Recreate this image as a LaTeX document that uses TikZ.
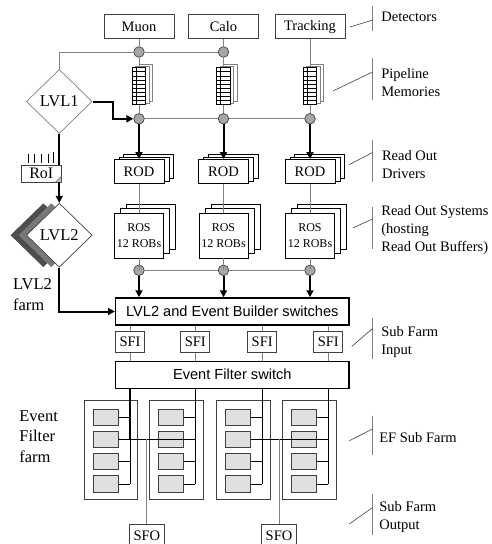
\documentclass[tikz,border=0pt]{standalone}
\usepackage{fontspec}
\setmainfont{Liberation Serif}
\setsansfont{Liberation Sans}
\usetikzlibrary{arrows.meta,shapes.geometric,shadows}

\definecolor{linegray}{HTML}{808080}
\definecolor{boxgray}{HTML}{404040}
\definecolor{dotgray}{HTML}{A6A6A6}
\definecolor{cellgray}{HTML}{E0E0E0}
\definecolor{shadedark}{HTML}{4D4D4D}
\definecolor{shademid}{HTML}{787878}

\tikzset{
    txt/.style={font=\fontsize{14.5}{18}\selectfont},
    bigtxt/.style={font=\fontsize{16.5}{20.5}\selectfont},
    sanstxt/.style={font=\sffamily\fontsize{14.6}{18}\selectfont},
    detbox/.style={draw=boxgray, fill=white, minimum width=70pt, minimum height=24.2pt, inner sep=0pt, txt},
    junction/.style={circle, draw=boxgray, fill=dotgray, minimum size=10.6pt, inner sep=0pt},
    pipe/.style={draw=black, fill=white, minimum width=13.5pt, minimum height=37pt, inner sep=0pt,
        general shadow={shadow xshift=7pt, shadow yshift=3.5pt, draw=linegray, fill=white},
        general shadow={shadow xshift=3.5pt, shadow yshift=1.75pt, draw=linegray, fill=white},
        path picture={
            \foreach \k in {1,...,8}
                \draw[line width=0.5pt] ([yshift=-\k*4.1pt]path picture bounding box.north west) -- ++(13.5pt,0);
            \draw[line width=0.5pt] ([xshift=3.5pt]path picture bounding box.north west)
                -- ([xshift=3.5pt]path picture bounding box.south west);
        }},
    rodbox/.style={draw=black, fill=white, minimum width=50pt, minimum height=24.2pt, inner sep=0pt, txt,
        general shadow={shadow xshift=9.5pt, shadow yshift=5pt, draw=black, fill=white},
        general shadow={shadow xshift=5pt, shadow yshift=2.5pt, draw=black, fill=white}},
    rosbox/.style={draw=black, fill=white, minimum width=49.3pt, minimum height=45pt, inner sep=0pt,
        align=center, font=\fontsize{12}{15.5}\selectfont,
        general shadow={shadow xshift=12pt, shadow yshift=8.5pt, draw=black, fill=white},
        general shadow={shadow xshift=6pt, shadow yshift=4.3pt, draw=black, fill=white}},
    trig/.style={diamond, aspect=1, minimum width=65.7pt, minimum height=64pt, inner sep=0pt, fill=white, bigtxt},
    switchbox/.style={draw=black, line width=1.5pt, fill=white, minimum width=233.3pt, minimum height=27pt, sanstxt},
    smallbox/.style={draw=boxgray, fill=white, minimum width=29pt, minimum height=21pt, inner sep=0pt, txt},
    farmbox/.style={draw=boxgray, minimum width=53.5pt, minimum height=99.5pt, inner sep=0pt},
    cell/.style={draw=boxgray, fill=cellgray, minimum width=24.7pt, minimum height=16.3pt, inner sep=0pt},
    conn/.style={draw=linegray, line width=0.8pt},
    link/.style={draw=black, line width=0.6pt},
    flow/.style={->, line width=2pt},
    brk/.style={draw=linegray, line width=1.2pt},
    sidelabel/.style={txt, align=left, anchor=west, inner sep=0pt},
}

\begin{document}
\begin{tikzpicture}[x=1pt, y=-1pt, line width=0.7pt, >={Triangle[length=7pt,width=7pt]}]

    \useasboundingbox (0,0) rectangle (492,544);
    \clip (0,0) rectangle (492,544);

    %========================
    % Detectors, pipelines, RODs, ROSs
    %========================
    \node[detbox] (muon) at (139,26.7) {Muon};
    \node[detbox] (calo) at (223.5,26.7) {Calo};
    \node[detbox] (trk) at (310,26.7) {Tracking};

    \node[junction] (top1) at (139,52) {};
    \node[junction] (top2) at (223.5,52) {};

    \foreach \i/\x in {1/139,2/223.5,3/310} {
        \node[pipe] (pipe\i) at (\x,86.1) {};
        \node[junction] (mid\i) at (\x,118.8) {};
        \node[rodbox] (rod\i) at (\x,171.5) {ROD};
        \node[rosbox] (ros\i) at (\x,235.6) {ROS\\12 ROBs};
        \node[junction] (rj\i) at (\x,270.3) {};
    }

    %========================
    % Trigger levels
    %========================
    \node[trig, draw=linegray] (lvl1) at (59.3,101.5) {LVL1};
    \node[draw=boxgray, fill=white, minimum width=39.3pt, minimum height=17pt, inner sep=0pt,
          font=\fontsize{16}{18}\selectfont] (roi) at (41.3,173.5) {RoI};
    \node[trig, draw=boxgray,
          general shadow={shadow xshift=-16pt, fill=shadedark, draw=none},
          general shadow={shadow xshift=-8pt, fill=shademid, draw=none}] (lvl2) at (59.3,235.2) {LVL2};

    % RoI folded corner and ticks
    \filldraw[fill=cellgray!70!gray, draw=boxgray, line width=0.4pt]
        (roi.south east) -- ++(-6,0) -- ++(6,-6) -- cycle;
    \foreach \dx/\h in {6.6/8.5, 13.3/8.5, 20/8.5, 26.6/8.5, 31.6/11}
        \draw[link] ([xshift=\dx pt, yshift=1.7pt]roi.north west) -- ++(0,-\h);

    \node[sidelabel, bigtxt] (lbllvl2) at (12.7,294.5) {LVL2\\farm};

    %========================
    % Switches, SFIs, EF sub farms
    %========================
    \node[switchbox] (eb) at (232.3,311.5) {LVL2 and Event Builder switches};
    \node[switchbox] (efs) at (232.3,374.75) {Event Filter switch};

    \foreach \i/\x in {1/130,2/195.3,3/262.2,4/328.3} {
        \node[smallbox] (sfi\i) at (\x,342) {SFI};
        \node[farmbox] (farm\i) at (\x-18.95,450) {};
        \foreach \r/\yc in {a/417.2,b/439.4,c/461.6,d/483.8}
            \node[cell] (f\i-\r) at (\x-24.35,\yc) {};
    }

    \node[smallbox, minimum width=35pt, minimum height=23.4pt] (sfo1) at (146.8,536) {SFO};
    \node[smallbox, minimum width=35pt, minimum height=23.4pt] (sfo2) at (279,536) {SFO};

    \node[sidelabel, bigtxt] (lblef) at (19,436.3) {Event\\Filter\\farm};

    %========================
    % Connectors
    %========================
    \draw[conn] (muon.south) -- (top1.north);
    \draw[conn] (calo.south) -- (top2.north);
    \draw[conn] (top1.south) -- (pipe1.north);
    \draw[conn] (top2.south) -- (pipe2.north);
    \draw[conn] (trk.south) -- (pipe3.north);
    \draw[conn] (lvl1.north) |- (top1.west);
    \draw[conn] (top1.east) -- (top2.west);
    \draw[conn] (mid1.east) -- (mid2.west) (mid2.east) -- (mid3.west);
    \draw[conn] (rj1.east) -- (rj2.west) (rj2.east) -- (rj3.west);

    \foreach \i in {1,2,3} {
        \draw[conn] (pipe\i.south) -- (mid\i.north);
        \draw[flow] (mid\i.south) -- (rod\i.north);
        \draw[conn] (rod\i.south) -- (ros\i.north);
        \draw[conn] (ros\i.south) -- (rj\i.center);
        \draw[flow] (rj\i.south) -- (rj\i.south |- eb.north);
    }

    \draw[flow] (lvl1.east) -- ++(20.6,0) |- (mid1.west);
    \draw[line width=2pt] (lvl1.south) -- (lvl1.south |- roi.north);
    \draw[flow] (lvl1.south |- roi.south) -- (lvl2.north);
    \draw[flow] (lvl2.south) |- (eb.west);

    \foreach \i in {1,...,4} {
        \draw[conn] (eb.south -| sfi\i) -- (sfi\i.north);
        \draw[conn] (sfi\i.south) -- (sfi\i |- efs.north);
        \draw[link] (efs.south -| sfi\i) -- (f\i-d.east -| sfi\i);
        \draw[line width=1.3pt] (efs.south -| sfi\i) -- (f\i-b.east -| sfi\i);
        \foreach \r in {a,b,c,d}
            \draw[link] (f\i-\r.east) -- (f\i-\r.east -| sfi\i);
    }

    \draw[link] (f1-b.east -| sfi1) -- (f2-b.east -| sfi2);
    \draw[link] (f3-b.east -| sfi3) -- (f4-b.east -| sfi4);
    \draw[conn] (sfo1.north) -- (sfo1.north |- f1-b.east);
    \draw[conn] (sfo2.north) -- (sfo2.north |- f3-b.east);

    %========================
    % Side labels
    %========================
    \node[sidelabel] (lbldet) at (381,16.6) {Detectors};
    \node[sidelabel] (lblpipe) at (381,82.6) {Pipeline\\Memories};
    \node[sidelabel] (lblrod) at (381.7,164.6) {Read Out\\Drivers};
    \node[sidelabel] (lblros) at (381,230) {Read Out Systems\\(hosting\\Read Out Buffers)};
    \node[sidelabel] (lblsfi) at (381,341.6) {Sub Farm\\Input};
    \node[sidelabel] (lblsub) at (379,437.3) {EF Sub Farm};
    \node[sidelabel] (lblsfo) at (379,516.6) {Sub Farm\\Output};

    \foreach \ya/\yb/\sx/\sy/\ey in {6.2/30.5/350/27/20.1, 58.2/99.8/333.3/90.8/72,
        140.3/181.9/349.3/164.6/152.5, 206.5/249/352.7/228/219, 318/358.6/351.7/346.5/328.5,
        415.8/454.6/349.3/440.7/429, 493.8/535.3/349.3/523.9/507.6} {
        \draw[brk] (372.5,\ya) -- (372.5,\yb);
        \draw[link, draw=boxgray] (\sx,\sy) -- (372.5,\ey);
    }

\end{tikzpicture}
\end{document}
